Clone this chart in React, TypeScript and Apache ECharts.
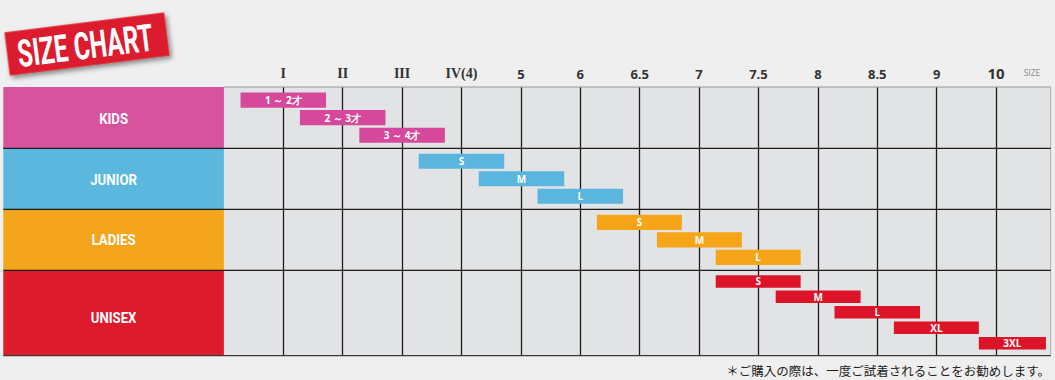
import React, { useEffect, useRef } from "react";
import * as echarts from "echarts";

// ---- data ----
const sizeTicks = ["I", "II", "III", "IV(4)", "5", "6", "6.5", "7", "7.5", "8", "8.5", "9", "10"];
const romanTicks = ["I", "II", "III", "IV(4)"];
const groupNames = ["KIDS", "JUNIOR", "LADIES", "UNISEX"];

const kidsLabels = ["1 ～ 2才", "2 ～ 3才", "3 ～ 4才"];
const kidsStart = [-0.72, 0.28, 1.28];
const kidsEnd = [0.72, 1.72, 2.72];

const juniorLabels = ["S", "M", "L"];
const juniorStart = [2.28, 3.29, 4.28];
const juniorEnd = [3.72, 4.73, 5.72];

const ladiesLabels = ["S", "M", "L"];
const ladiesStart = [5.28, 6.29, 7.28];
const ladiesEnd = [6.71, 7.72, 8.71];

const unisexLabels = ["S", "M", "L", "XL", "3XL"];
const unisexStart = [7.28, 8.29, 9.28, 10.28, 11.71];
const unisexEnd = [8.71, 9.72, 10.72, 11.71, 12.84];

const footNote = "＊ご購入の際は、一度ご試着されることをお勧めします。";

// ---- styling / layout ----
const panelColors = ["#d8539e", "#5bb7dd", "#f5a51c", "#de1a2d"];
const barColors = ["#d6489b", "#5ab6de", "#f6a418", "#dc1428"];
const GRID_LEFT = 223.9;
const GRID_RIGHT = 1050.7;
const GRID_W = GRID_RIGHT - GRID_LEFT;
const PANEL_LEFT = 3.3;
const ROW_TOP = [87, 148.3, 209.3, 270.3];
const ROW_H = [61.3, 61, 61, 85.4];
const LANE_RANGE = [
  [-0.743, 2.743],
  [-0.743, 2.743],
  [-0.743, 2.743],
  [-0.72, 4.81],
];
const BAR_FRAC = [0.86, 0.86, 0.87, 0.81];
const LABEL_DY = [1, 1, 0, 5];

const seriesDefs = [
  { labels: kidsLabels, start: kidsStart, end: kidsEnd },
  { labels: juniorLabels, start: juniorStart, end: juniorEnd },
  { labels: ladiesLabels, start: ladiesStart, end: ladiesEnd },
  { labels: unisexLabels, start: unisexStart, end: unisexEnd },
];

export default function App() {
  const ref = useRef<HTMLDivElement>(null);

  useEffect(() => {
    document.body.style.margin = "0";
    if (!ref.current) return;
    const chart = echarts.init(ref.current, null, { renderer: "svg" });

    const grids = ROW_TOP.map((top, i) => ({
      left: GRID_LEFT,
      top,
      width: GRID_W,
      height: ROW_H[i],
      show: true,
      backgroundColor: "#e2e3e5",
      borderWidth: 0,
    }));

    const xAxes = ROW_TOP.map((_, i) => ({
      type: "value",
      gridIndex: i,
      min: -1,
      max: 12.92,
      interval: 1,
      position: "top",
      axisLine: { show: false },
      axisTick: { show: false },
      axisLabel:
        i === 0
          ? {
              show: true,
              margin: 7,
              color: "#333",
              fontFamily: "Open Sans",
              fontWeight: "bold",
              fontSize: 13,
              formatter: (v: number) => {
                const k = Math.round(v);
                if (Math.abs(v - k) > 0.01 || k < 0 || k >= sizeTicks.length) return "";
                const t = sizeTicks[k];
                if (romanTicks.includes(t)) return "{r|" + t + "}";
                if (t === "10") return "{b|" + t + "}";
                return t;
              },
              rich: {
                r: { fontFamily: "Liberation Serif", fontWeight: "bold", fontSize: 14, color: "#333" },
                b: { fontFamily: "Open Sans", fontWeight: "bold", fontSize: 15, color: "#333" },
              },
            }
          : { show: false },
      splitLine: {
        show: true,
        showMinLine: false,
        showMaxLine: false,
        lineStyle: { color: "#1c1c1c", width: 1.3 },
      },
    }));

    const yAxes = ROW_TOP.map((_, i) => ({
      type: "value",
      gridIndex: i,
      inverse: true,
      min: LANE_RANGE[i][0],
      max: LANE_RANGE[i][1],
      show: false,
      splitLine: { show: false },
    }));

    const series = seriesDefs.map((def, i) => ({
      type: "custom",
      xAxisIndex: i,
      yAxisIndex: i,
      encode: { x: [0, 1], y: 2 },
      data: def.labels.map((_, j) => [def.start[j], def.end[j], j]),
      renderItem: (params: any, api: any) => {
        const s = api.coord([api.value(0), api.value(2)]);
        const e = api.coord([api.value(1), api.value(2)]);
        const h = api.size([0, 1])[1] * BAR_FRAC[i];
        return {
          type: "group",
          children: [
            {
              type: "rect",
              shape: { x: s[0], y: s[1] - h / 2, width: e[0] - s[0], height: h },
              style: { fill: barColors[i] },
            },
            {
              type: "text",
              x: (s[0] + e[0]) / 2,
              y: s[1],
              style: {
                text: def.labels[params.dataIndex],
                fill: "#ffffff",
                fontFamily: "Open Sans",
                fontWeight: "bold",
                fontSize: 10,
                align: "center",
                verticalAlign: "middle",
              },
            },
          ],
        };
      },
    }));

    const graphics: any[] = [];
    // category panels
    groupNames.forEach((name, i) => {
      graphics.push({
        type: "rect",
        shape: { x: PANEL_LEFT, y: ROW_TOP[i], width: GRID_LEFT - PANEL_LEFT, height: ROW_H[i] },
        style: { fill: panelColors[i] },
        z: 10,
      });
      graphics.push({
        type: "text",
        x: (PANEL_LEFT + GRID_LEFT) / 2,
        y: ROW_TOP[i] + ROW_H[i] / 2 + LABEL_DY[i],
        scaleX: 0.88,
        style: {
          text: name,
          fill: "#ffffff",
          fontFamily: "Roboto",
          fontWeight: "bold",
          fontSize: 15,
          align: "center",
          verticalAlign: "middle",
        },
        z: 11,
      });
    });
    // top border (gray) and right border
    graphics.push({
      type: "line",
      shape: { x1: GRID_LEFT, y1: ROW_TOP[0], x2: GRID_RIGHT, y2: ROW_TOP[0] },
      style: { stroke: "#9a9a9a", lineWidth: 1.2 },
      z: 12,
    });
    graphics.push({
      type: "line",
      shape: { x1: GRID_RIGHT, y1: ROW_TOP[0], x2: GRID_RIGHT, y2: ROW_TOP[3] + ROW_H[3] },
      style: { stroke: "#a8a8a8", lineWidth: 1 },
      z: 12,
    });
    // row dividers
    [ROW_TOP[1], ROW_TOP[2], ROW_TOP[3], ROW_TOP[3] + ROW_H[3]].forEach((y, k) => {
      graphics.push({
        type: "line",
        shape: { x1: PANEL_LEFT, y1: y, x2: GRID_RIGHT, y2: y },
        style: { stroke: k === 3 ? "#3a3a3a" : "#1c1c1c", lineWidth: 1.3 },
        z: 12,
      });
    });
    // SIZE label
    graphics.push({
      type: "text",
      x: 1032,
      y: 72,
      style: {
        text: "SIZE",
        fill: "#8a8a8a",
        fontFamily: "Open Sans",
        fontSize: 8.5,
        align: "center",
        verticalAlign: "middle",
      },
    });
    // title badge
    graphics.push({
      type: "group",
      x: 87,
      y: 44,
      rotation: 0.124,
      children: [
        {
          type: "rect",
          shape: { x: -80.5, y: -21.8, width: 161, height: 43.6 },
          style: {
            fill: "#dc1f2e",
            shadowBlur: 5,
            shadowColor: "rgba(0,0,0,0.45)",
            shadowOffsetX: 2,
            shadowOffsetY: 3,
          },
        },
        {
          type: "text",
          x: -2,
          y: 1.5,
          scaleX: 0.64,
          style: {
            text: "SIZE CHART",
            fill: "#ffffff",
            fontFamily: "Roboto",
            fontWeight: "bold",
            fontSize: 38,
            align: "center",
            verticalAlign: "middle",
          },
        },
      ],
    });
    // footnote
    graphics.push({
      type: "text",
      x: 1050,
      y: 370,
      style: {
        text: footNote,
        fill: "#222",
        fontFamily: "Noto Sans CJK JP",
        fontSize: 12.5,
        align: "right",
        verticalAlign: "middle",
      },
    });

    chart.setOption({
      animation: false,
      backgroundColor: "#efefef",
      grid: grids,
      xAxis: xAxes,
      yAxis: yAxes,
      series,
      graphic: graphics,
    });

    return () => chart.dispose();
  }, []);

  return <div ref={ref} style={{ width: 1055, height: 380 }} />;
}
